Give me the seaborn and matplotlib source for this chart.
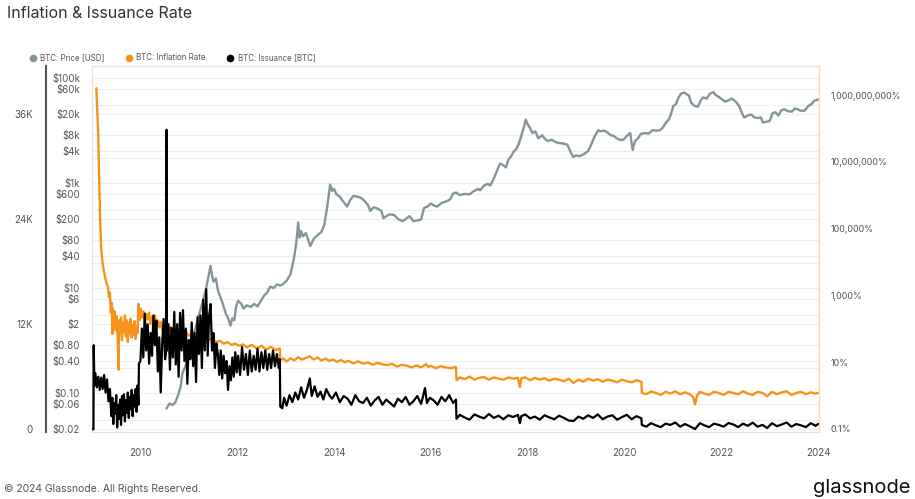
import numpy as np
import pandas as pd
import matplotlib
matplotlib.use("Agg")
import matplotlib.pyplot as plt
import matplotlib.ticker as mticker
from matplotlib.lines import Line2D
import seaborn as sns

sns.set_theme(style="white")
plt.rcParams['font.family'] = ['Inter', 'DejaVu Sans']

# BTC price [USD]
price_year = [
    2010.54, 2010.60, 2010.66, 2010.72, 2010.78, 2010.83, 2010.87, 2010.92, 2010.97, 2011.03,
    2011.12, 2011.20, 2011.30, 2011.36, 2011.42, 2011.45, 2011.48, 2011.51, 2011.56, 2011.60,
    2011.65, 2011.70, 2011.76, 2011.82, 2011.86, 2011.90, 2011.94, 2011.98, 2012.02, 2012.08,
    2012.13, 2012.20, 2012.28, 2012.35, 2012.42, 2012.50, 2012.56, 2012.62, 2012.68, 2012.75,
    2012.82, 2012.90, 2012.95, 2013.02, 2013.10, 2013.17, 2013.22, 2013.26, 2013.29, 2013.32,
    2013.36, 2013.42, 2013.47, 2013.51, 2013.58, 2013.66, 2013.74, 2013.80, 2013.86, 2013.92,
    2013.96, 2014.00, 2014.05, 2014.12, 2014.18, 2014.27, 2014.33, 2014.40, 2014.48, 2014.55,
    2014.62, 2014.70, 2014.75, 2014.82, 2014.90, 2014.98, 2015.02, 2015.08, 2015.16, 2015.25,
    2015.33, 2015.42, 2015.50, 2015.56, 2015.64, 2015.72, 2015.80, 2015.86, 2015.93, 2016.00,
    2016.06, 2016.13, 2016.22, 2016.32, 2016.40, 2016.46, 2016.52, 2016.60, 2016.70, 2016.80,
    2016.90, 2016.98, 2017.02, 2017.10, 2017.18, 2017.23, 2017.30, 2017.37, 2017.43, 2017.48,
    2017.55, 2017.60, 2017.67, 2017.71, 2017.76, 2017.82, 2017.88, 2017.93, 2017.96, 2018.00,
    2018.05, 2018.10, 2018.16, 2018.22, 2018.30, 2018.36, 2018.42, 2018.50, 2018.57, 2018.64,
    2018.72, 2018.82, 2018.88, 2018.94, 2019.00, 2019.08, 2019.16, 2019.25, 2019.32, 2019.38,
    2019.46, 2019.50, 2019.58, 2019.65, 2019.72, 2019.78, 2019.84, 2019.92, 2019.98, 2020.05,
    2020.12, 2020.17, 2020.22, 2020.28, 2020.34, 2020.42, 2020.50, 2020.58, 2020.66, 2020.74,
    2020.80, 2020.86, 2020.92, 2020.96, 2021.01, 2021.06, 2021.12, 2021.17, 2021.24, 2021.29,
    2021.33, 2021.38, 2021.45, 2021.52, 2021.57, 2021.62, 2021.70, 2021.77, 2021.84, 2021.88,
    2021.95, 2022.03, 2022.08, 2022.15, 2022.22, 2022.30, 2022.37, 2022.43, 2022.47, 2022.55,
    2022.62, 2022.68, 2022.76, 2022.82, 2022.86, 2022.94, 2023.00, 2023.06, 2023.12, 2023.18,
    2023.24, 2023.30, 2023.38, 2023.46, 2023.52, 2023.58, 2023.64, 2023.72, 2023.80, 2023.86,
    2023.92, 2024.00]
price_usd = [
    0.05, 0.062, 0.058, 0.065, 0.09, 0.13, 0.24, 0.30, 0.41, 0.8,
    1.5, 2.8, 6.0, 10.0, 19.0, 26.0, 17.0, 13.0, 15.0, 9.0,
    6.7, 5.0, 3.3, 2.5, 1.9, 2.6, 2.4, 4.5, 5.6, 5.0,
    4.0, 4.6, 4.3, 4.9, 4.4, 5.8, 7.2, 8.0, 10.5, 9.8,
    11.5, 11.0, 11.8, 13.5, 18.0, 35.0, 70.0, 175.0, 90.0, 120.0,
    95.0, 110.0, 80.0, 62.0, 85.0, 100.0, 115.0, 160.0, 350.0, 920.0,
    700.0, 760.0, 600.0, 540.0, 450.0, 350.0, 460.0, 560.0, 540.0, 520.0,
    460.0, 380.0, 290.0, 340.0, 320.0, 290.0, 210.0, 230.0, 250.0, 240.0,
    200.0, 185.0, 210.0, 230.0, 185.0, 190.0, 200.0, 330.0, 350.0, 400.0,
    370.0, 350.0, 410.0, 440.0, 480.0, 620.0, 650.0, 580.0, 610.0, 600.0,
    700.0, 760.0, 720.0, 880.0, 950.0, 880.0, 1200.0, 1700.0, 2300.0, 2200.0,
    1950.0, 2700.0, 3300.0, 3900.0, 4300.0, 5500.0, 8500.0, 12000.0, 16000.0, 13000.0,
    11000.0, 8800.0, 9500.0, 7000.0, 8000.0, 6800.0, 6200.0, 6600.0, 6000.0, 5700.0,
    5600.0, 5300.0, 4000.0, 3100.0, 3300.0, 3200.0, 3500.0, 4000.0, 5500.0, 7500.0,
    10000.0, 9500.0, 9800.0, 9000.0, 8000.0, 7800.0, 7000.0, 6500.0, 6600.0, 7800.0,
    8800.0, 4200.0, 6200.0, 7000.0, 8500.0, 8800.0, 8600.0, 10000.0, 9800.0, 10000.0,
    11500.0, 14000.0, 16000.0, 20000.0, 29000.0, 31000.0, 42000.0, 50000.0, 52000.0, 48000.0,
    46000.0, 33000.0, 29000.0, 28000.0, 36000.0, 42000.0, 40000.0, 50000.0, 53000.0, 47000.0,
    43000.0, 38000.0, 35000.0, 37000.0, 40000.0, 35000.0, 29000.0, 21000.0, 17500.0, 19000.0,
    20000.0, 17500.0, 17000.0, 17500.0, 14000.0, 14500.0, 15000.0, 21000.0, 22000.0, 19000.0,
    24000.0, 25000.0, 23000.0, 22500.0, 26000.0, 25000.0, 23500.0, 23500.0, 29000.0, 31000.0,
    36000.0, 38500.0]

# BTC inflation rate [%]
infl_year = [
    2009.09, 2009.11, 2009.13, 2009.15, 2009.17, 2009.19, 2009.22, 2009.25, 2009.28, 2009.30,
    2009.33, 2009.35, 2009.37, 2009.39, 2009.41, 2009.42, 2009.43, 2009.45, 2009.47, 2009.49,
    2009.51, 2009.53, 2009.55, 2009.56, 2009.58, 2009.60, 2009.62, 2009.64, 2009.66, 2009.68,
    2009.70, 2009.72, 2009.74, 2009.76, 2009.78, 2009.80, 2009.82, 2009.84, 2009.86, 2009.88,
    2009.90, 2009.92, 2009.94, 2009.96, 2009.98, 2010.00, 2010.03, 2010.06, 2010.09, 2010.12,
    2010.15, 2010.18, 2010.21, 2010.24, 2010.27, 2010.30, 2010.33, 2010.36, 2010.39, 2010.42,
    2010.45, 2010.48, 2010.51, 2010.54, 2010.57, 2010.60, 2010.64, 2010.68, 2010.72, 2010.76,
    2010.80, 2010.85, 2010.90, 2010.95, 2011.00, 2011.06, 2011.12, 2011.18, 2011.25, 2011.32,
    2011.40, 2011.48, 2011.56, 2011.64, 2011.72, 2011.80, 2011.88, 2011.96, 2012.04, 2012.12,
    2012.20, 2012.30, 2012.40, 2012.50, 2012.60, 2012.70, 2012.80, 2012.88, 2012.89, 2012.95,
    2013.02, 2013.10, 2013.18, 2013.26, 2013.34, 2013.42, 2013.50, 2013.58, 2013.66, 2013.74,
    2013.82, 2013.90, 2013.98, 2014.06, 2014.14, 2014.22, 2014.30, 2014.40, 2014.50, 2014.60,
    2014.70, 2014.80, 2014.90, 2015.00, 2015.10, 2015.20, 2015.30, 2015.40, 2015.50, 2015.60,
    2015.70, 2015.80, 2015.90, 2015.95, 2016.00, 2016.10, 2016.20, 2016.30, 2016.40, 2016.52,
    2016.53, 2016.60, 2016.70, 2016.80, 2016.90, 2017.00, 2017.10, 2017.20, 2017.30, 2017.40,
    2017.50, 2017.60, 2017.70, 2017.80, 2017.84, 2017.87, 2017.95, 2018.05, 2018.15, 2018.25,
    2018.35, 2018.45, 2018.55, 2018.65, 2018.75, 2018.85, 2018.95, 2019.05, 2019.15, 2019.25,
    2019.35, 2019.45, 2019.55, 2019.65, 2019.75, 2019.85, 2019.95, 2020.05, 2020.15, 2020.25,
    2020.35, 2020.36, 2020.45, 2020.55, 2020.65, 2020.75, 2020.85, 2020.95, 2021.05, 2021.15,
    2021.25, 2021.35, 2021.42, 2021.46, 2021.50, 2021.56, 2021.65, 2021.75, 2021.85, 2021.95,
    2022.05, 2022.15, 2022.25, 2022.35, 2022.45, 2022.55, 2022.65, 2022.75, 2022.85, 2022.95,
    2023.05, 2023.15, 2023.25, 2023.35, 2023.45, 2023.55, 2023.65, 2023.75, 2023.85, 2023.95,
    2024.00]
infl_pct = [
    1.6e9, 3e8, 6e7, 2e6, 1.5e5, 2.5e4, 9000, 5000, 3000, 2300,
    1800, 900, 1200, 300, 600, 70, 400, 150, 330, 90,
    240, 60, 6, 180, 70, 220, 45, 160, 80, 250,
    60, 180, 40, 150, 70, 200, 55, 130, 65, 170,
    50, 120, 75, 560, 180, 400, 220, 330, 160, 280,
    190, 300, 140, 230, 150, 250, 120, 180, 110, 160,
    95, 140, 90, 120, 85, 115, 80, 100, 75, 95,
    70, 88, 65, 80, 62, 72, 55, 65, 50, 58,
    46, 52, 40, 44, 36, 40, 33, 36, 31, 34,
    28, 33, 26, 31, 24, 29, 23, 26, 11, 13,
    10.5, 13, 11.5, 14, 12, 13.5, 15, 12, 13.8, 11.2,
    12.8, 11, 12, 10.2, 11.6, 10, 11, 9.2, 10.6, 9,
    9.8, 8.4, 9.6, 8.6, 8.2, 9.0, 7.4, 8.4, 7.9, 7.0,
    8.0, 7.0, 8.8, 7.2, 7.8, 6.6, 7.6, 7.0, 6.6, 7.2,
    2.9, 3.5, 3.1, 3.7, 3.0, 3.4, 3.6, 3.0, 3.5, 3.2,
    3.0, 3.5, 3.2, 3.4, 1.8, 3.3, 3.5, 2.9, 3.4, 3.0,
    3.3, 2.8, 3.2, 3.0, 2.7, 3.2, 2.4, 3.0, 2.6, 3.2,
    2.8, 3.1, 2.6, 3.0, 2.8, 2.5, 3.0, 2.7, 2.5, 2.9,
    2.6, 1.2, 1.1, 1.32, 1.2, 1.05, 1.3, 1.15, 1.35, 1.1,
    1.25, 1.1, 0.9, 0.55, 1.0, 1.3, 1.15, 1.05, 1.3, 1.2,
    1.05, 1.3, 1.2, 1.1, 1.35, 1.15, 1.05, 1.3, 1.2, 0.95,
    1.3, 1.1, 1.25, 1.35, 1.05, 1.2, 1.3, 1.1, 1.25, 1.15,
    1.2]

# BTC issuance [BTC per day]
iss_year = [
    2009.01, 2009.03, 2009.035, 2009.05, 2009.07, 2009.10, 2009.13, 2009.16, 2009.19, 2009.22,
    2009.25, 2009.28, 2009.31, 2009.34, 2009.37, 2009.40, 2009.42, 2009.44, 2009.46, 2009.48,
    2009.50, 2009.52, 2009.54, 2009.56, 2009.58, 2009.60, 2009.62, 2009.64, 2009.66, 2009.68,
    2009.70, 2009.72, 2009.74, 2009.76, 2009.78, 2009.80, 2009.82, 2009.84, 2009.86, 2009.88,
    2009.90, 2009.92, 2009.94, 2009.96, 2009.97, 2010.00, 2010.03, 2010.06, 2010.09, 2010.12,
    2010.15, 2010.18, 2010.21, 2010.24, 2010.27, 2010.30, 2010.33, 2010.36, 2010.39, 2010.42,
    2010.45, 2010.48, 2010.51, 2010.535, 2010.54, 2010.545, 2010.58, 2010.61, 2010.64, 2010.67,
    2010.70, 2010.73, 2010.76, 2010.79, 2010.82, 2010.85, 2010.88, 2010.91, 2010.94, 2010.97,
    2011.00, 2011.03, 2011.06, 2011.09, 2011.12, 2011.15, 2011.18, 2011.21, 2011.24, 2011.27,
    2011.30, 2011.33, 2011.36, 2011.39, 2011.42, 2011.45, 2011.48, 2011.51, 2011.54, 2011.57,
    2011.60, 2011.63, 2011.66, 2011.69, 2011.72, 2011.75, 2011.78, 2011.81, 2011.84, 2011.87,
    2011.90, 2011.93, 2011.96, 2011.99, 2012.02, 2012.06, 2012.10, 2012.14, 2012.18, 2012.22,
    2012.26, 2012.30, 2012.34, 2012.38, 2012.42, 2012.46, 2012.50, 2012.54, 2012.58, 2012.62,
    2012.66, 2012.70, 2012.74, 2012.78, 2012.82, 2012.86, 2012.88, 2012.89, 2012.93, 2012.97,
    2013.02, 2013.08, 2013.14, 2013.20, 2013.26, 2013.32, 2013.38, 2013.44, 2013.50, 2013.54,
    2013.60, 2013.66, 2013.72, 2013.78, 2013.84, 2013.90, 2013.96, 2014.04, 2014.12, 2014.20,
    2014.28, 2014.36, 2014.44, 2014.52, 2014.60, 2014.68, 2014.76, 2014.84, 2014.92, 2015.00,
    2015.08, 2015.16, 2015.24, 2015.32, 2015.40, 2015.48, 2015.56, 2015.64, 2015.72, 2015.80,
    2015.88, 2015.92, 2015.98, 2016.06, 2016.14, 2016.22, 2016.30, 2016.38, 2016.46, 2016.52,
    2016.53, 2016.60, 2016.70, 2016.80, 2016.90, 2017.00, 2017.10, 2017.20, 2017.30, 2017.40,
    2017.50, 2017.60, 2017.70, 2017.80, 2017.84, 2017.87, 2017.95, 2018.05, 2018.15, 2018.25,
    2018.35, 2018.45, 2018.55, 2018.65, 2018.75, 2018.85, 2018.95, 2019.05, 2019.15, 2019.25,
    2019.35, 2019.45, 2019.55, 2019.65, 2019.75, 2019.85, 2019.95, 2020.05, 2020.15, 2020.25,
    2020.35, 2020.36, 2020.45, 2020.55, 2020.65, 2020.75, 2020.85, 2020.95, 2021.05, 2021.15,
    2021.25, 2021.35, 2021.42, 2021.46, 2021.50, 2021.56, 2021.65, 2021.75, 2021.85, 2021.95,
    2022.05, 2022.15, 2022.25, 2022.35, 2022.45, 2022.55, 2022.65, 2022.75, 2022.85, 2022.95,
    2023.05, 2023.15, 2023.25, 2023.35, 2023.45, 2023.55, 2023.65, 2023.75, 2023.85, 2023.95,
    2024.00]
iss_btc = [
    0, 0, 9600, 5000, 6400, 4800, 6000, 4500, 5900, 4600,
    6200, 4200, 5700, 3200, 4600, 1500, 3600, 600, 3000, 1800,
    3900, 200, 2800, 1200, 3400, 500, 3800, 1600, 4000, 900,
    3300, 1900, 4200, 1300, 3700, 2300, 4500, 1500, 3900, 2600,
    4600, 2000, 5000, 2800, 7500, 7800, 11500, 8200, 13200, 9000,
    12000, 7500, 11000, 8400, 13000, 9600, 12400, 6600, 10500, 4200,
    9800, 12600, 8000, 9000, 34200, 9000, 12000, 6800, 11600, 8200,
    13400, 7400, 12000, 6000, 13300, 9000, 13600, 7800, 11500, 5200,
    10200, 8000, 12200, 7200, 11000, 5400, 12800, 8600, 13000, 7000,
    14800, 9000, 16000, 8400, 13000, 14300, 9000, 11000, 7000, 9800,
    8600, 6200, 9000, 5800, 8400, 6400, 7800, 4500, 7200, 5600,
    8200, 6000, 8800, 6500, 8400, 6200, 9400, 6800, 8600, 6200,
    9000, 6600, 8400, 6800, 9200, 6600, 8800, 7000, 9000, 6800,
    8600, 7000, 9000, 7200, 8600, 7000, 8000, 2600, 2400, 3600,
    2700, 3900, 3100, 4200, 3400, 4800, 3600, 4500, 5800, 3800,
    4900, 3700, 4300, 3400, 4600, 3900, 3500, 4200, 3100, 3800,
    3500, 2800, 3900, 3200, 3000, 3600, 2700, 3300, 3700, 2800,
    3400, 3000, 2600, 3500, 3100, 3700, 2800, 3200, 3800, 2900,
    4700, 3000, 3600, 3300, 2800, 3700, 3200, 3900, 3000, 3400,
    1200, 1650, 1350, 1100, 1700, 1450, 1250, 1750, 1300, 1550,
    1150, 1600, 1400, 1650, 700, 1500, 1700, 1250, 1450, 1100,
    1600, 1350, 1150, 1550, 1300, 1000, 950, 1450, 1200, 1600,
    1300, 1700, 1150, 1450, 1600, 1100, 1400, 1650, 1150, 1500,
    1250, 500, 300, 700, 450, 250, 650, 500, 780, 300,
    600, 350, 150, 30, 300, 700, 450, 250, 650, 500,
    300, 720, 550, 250, 650, 400, 760, 300, 500, 150,
    700, 350, 550, 780, 300, 600, 450, 250, 700, 400,
    600]

assert len(price_year) == len(price_usd)
assert len(infl_year) == len(infl_pct)
assert len(iss_year) == len(iss_btc)

# axis ticks
price_ticks = [0.02, 0.06, 0.10, 0.40, 0.80, 2, 6, 10, 40, 80, 200, 600, 1000,
               4000, 8000, 20000, 60000, 100000]
price_labels = ['$0.02', '$0.06', '$0.10', '$0.40', '$0.80', '$2', '$6', '$10', '$40',
                '$80', '$200', '$600', '$1k', '$4k', '$8k', '$20k', '$60k', '$100k']
infl_ticks = [0.1, 10, 1e3, 1e5, 1e7, 1e9]
infl_labels = ['0.1%', '10%', '1,000%', '100,000%', '10,000,000%', '1,000,000,000%']
iss_ticks = [0, 12000, 24000, 36000]
iss_labels = ['0', '12K', '24K', '36K']
year_ticks = [2010, 2012, 2014, 2016, 2018, 2020, 2022, 2024]

PRICE_C = '#83959b'
INFL_C = '#f7931a'
ISS_C = '#000000'
LABEL_C = '#555555'

W, H = 915, 499
fig = plt.figure(figsize=(W / 100, H / 100), dpi=100)
ax = fig.add_axes([92 / W, 1 - 432 / H, 727 / W, 366 / H])
ax_inf = ax.twinx()
ax_iss = ax.twinx()

price_df = pd.DataFrame({'year': price_year, 'price': price_usd})
infl_df = pd.DataFrame({'year': infl_year, 'pct': infl_pct})
iss_df = pd.DataFrame({'year': iss_year, 'btc': iss_btc})

ax.set_yscale('log')
ax_inf.set_yscale('log')
sns.lineplot(data=price_df, x='year', y='price', ax=ax, color=PRICE_C, linewidth=1.7)
sns.lineplot(data=infl_df, x='year', y='pct', ax=ax_inf, color=INFL_C, linewidth=1.7)
sns.lineplot(data=iss_df, x='year', y='btc', ax=ax_iss, color=ISS_C, linewidth=1.6)

ax.set_xlim(2009.0, 2024.02)
ax.set_ylim(0.0178, 167000)
ax_inf.set_ylim(0.0813, 7.4e9)
ax_iss.set_ylim(-308, 41480)

for a in (ax, ax_inf, ax_iss):
    a.set_xlabel('')
    a.set_ylabel('')

# price axis (left of plot)
ax.yaxis.set_major_locator(mticker.FixedLocator(price_ticks))
ax.yaxis.set_major_formatter(mticker.FixedFormatter(price_labels))
ax.yaxis.set_minor_locator(mticker.LogLocator(base=10, subs=(3.0,), numticks=20))
ax.yaxis.set_minor_formatter(mticker.NullFormatter())
ax.tick_params(axis='y', which='both', length=0, pad=8.6, labelsize=7, labelcolor=LABEL_C)
ax.grid(axis='y', which='both', color='#eeeeee', linewidth=0.8)

# x axis
ax.set_xticks(year_ticks)
ax.set_xticklabels([str(y) for y in year_ticks])
ax.tick_params(axis='x', length=4, width=0.8, color='#dddddd', pad=7.5,
               labelsize=7, labelcolor=LABEL_C)

# inflation axis (right)
ax_inf.yaxis.set_major_locator(mticker.FixedLocator(infl_ticks))
ax_inf.yaxis.set_major_formatter(mticker.FixedFormatter(infl_labels))
ax_inf.yaxis.set_minor_locator(mticker.NullLocator())
ax_inf.tick_params(axis='y', length=0, pad=8, labelsize=6.4, labelcolor=LABEL_C)

# issuance axis (far left)
ax_iss.yaxis.set_ticks_position('left')
ax_iss.yaxis.set_label_position('left')
ax_iss.spines['left'].set_position(('axes', -46 / 727))
ax_iss.yaxis.set_major_locator(mticker.FixedLocator(iss_ticks))
ax_iss.yaxis.set_major_formatter(mticker.FixedFormatter(iss_labels))
ax_iss.tick_params(axis='y', length=0, pad=9.4, labelsize=7, labelcolor=LABEL_C)

for s in ('top', 'left', 'bottom'):
    ax.spines[s].set_color('#e3e3e3')
    ax.spines[s].set_linewidth(0.9)
ax.spines['right'].set_visible(False)
for s in ('top', 'left', 'bottom'):
    ax_inf.spines[s].set_visible(False)
ax_inf.spines['right'].set_color('#fbd9ae')
ax_inf.spines['right'].set_linewidth(1.0)
for s in ('top', 'right', 'bottom'):
    ax_iss.spines[s].set_visible(False)
ax_iss.spines['left'].set_visible(True)
ax_iss.spines['left'].set_color('#555555')
ax_iss.spines['left'].set_linewidth(1.5)

# legend
handles = [Line2D([], [], marker='o', linestyle='', color=c, markersize=4.5)
           for c in (PRICE_C, INFL_C, ISS_C)]
fig.legend(handles, ['BTC: Price [USD]', 'BTC: Inflation Rate', 'BTC: Issuance [BTC]'],
           loc='center left', bbox_to_anchor=(30 / W, 1 - 58 / H), ncol=3, frameon=False,
           fontsize=5.7, labelcolor=LABEL_C, handlelength=0.7, handletextpad=0.6,
           columnspacing=2.7, borderpad=0, borderaxespad=0)

fig.text(7 / W, 1 - 14 / H, 'Inflation & Issuance Rate', fontsize=11.5, color='#333333',
         ha='left', va='center')
fig.text(4 / W, 1 - 489 / H, '\u00a9 2024 Glassnode. All Rights Reserved.', fontsize=7.5,
         color=LABEL_C, ha='left', va='center')
fig.text(911 / W, 1 - 488 / H, 'glassnode', fontsize=14.5, color='#111111',
         ha='right', va='center')

fig.savefig('out.png', dpi=100, facecolor='white')
